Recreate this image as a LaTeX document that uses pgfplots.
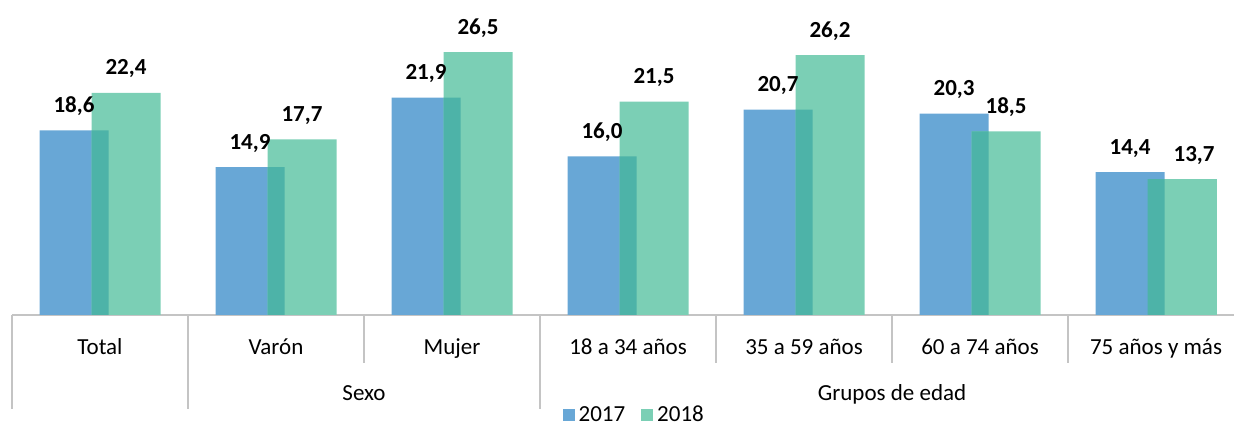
\documentclass[border=0pt]{standalone}
\usepackage{fontspec}
\setmainfont{Carlito}
\usepackage{pgfplots}
\usepackage{pgfplotstable}
\pgfplotsset{compat=1.18}

\definecolor{c17}{RGB}{104,167,214}
\definecolor{c18}{RGB}{123,207,181}
\definecolor{cov}{RGB}{77,179,168}
\definecolor{sep}{RGB}{196,196,196}

% x, 2017, 2018, overlap (min)
\pgfplotstableread{
x a b m
0 18.6 22.4 18.6
1 14.9 17.7 14.9
2 21.9 26.5 21.9
3 16.0 21.5 16.0
4 20.7 26.2 20.7
5 20.3 18.5 18.5
6 14.4 13.7 13.7
}\datatable

\begin{document}
\begin{tikzpicture}
\begin{axis}[
  scale only axis,
  width=611pt, height=157.5pt,
  ybar,
  xmin=-0.5, xmax=6.443,
  ymin=0, ymax=31.75,
  axis x line=bottom,
  axis y line=none,
  x axis line style={-, sep, line width=1.3pt},
  xtick={0,...,6},
  xticklabels={Total,Varón,Mujer,18 a 34 años,35 a 59 años,60 a 74 años,75 años y más},
  major tick length=0pt,
  xticklabel style={anchor=base, yshift=-20pt, font=\fontsize{11.5}{13}\selectfont},
  ytick=\empty,
  clip=false,
  /pgf/number format/.cd, fixed, fixed zerofill, precision=1, use comma, assume math mode=true,
  /pgfplots/.cd,
  nodes near coords,
  every node near coord/.append style={anchor=base, yshift=9pt, font=\bfseries\fontsize{11.5}{14}\selectfont, black},
  legend columns=2,
  legend style={at={(0.51,-0.318)}, anchor=center, draw=none, fill=none,
    font=\fontsize{11.5}{13}\selectfont,
    /tikz/every even column/.append style={column sep=6pt}},
  legend image code/.code={\fill[#1] (0pt,-3pt) rectangle (6pt,3pt);},
]
\addplot[fill=c17, draw=none, bar width=34.5pt, bar shift=-13pt] table[x=x, y=a] {\datatable};
\addlegendentry{2017}
\addplot[fill=c18, draw=none, bar width=34.5pt, bar shift=13pt, restrict x to domain=-1:5.5] table[x=x, y=b] {\datatable};
\addlegendentry{2018}
\addplot[fill=c18, draw=none, bar width=34.5pt, bar shift=13pt, restrict x to domain=5.5:7, forget plot,
  every node near coord/.append style={xshift=6pt}] table[x=x, y=b] {\datatable};
\addplot[fill=cov, draw=none, bar width=8.5pt, bar shift=0pt, nodes near coords={}, forget plot] table[x=x, y=m] {\datatable};

% category separators
\pgfplotsinvokeforeach{-0.5,0.5,2.5}{
  \draw[sep, line width=1.3pt] (axis cs:#1,0) -- ++(0pt,-47pt);
}
\pgfplotsinvokeforeach{1.5,3.5,4.5,5.5}{
  \draw[sep, line width=1.3pt] (axis cs:#1,0) -- ++(0pt,-24pt);
}
% group labels
\node[anchor=base, font=\fontsize{11.5}{13}\selectfont] at ([yshift=-43pt]axis cs:1.5,0) {Sexo};
\node[anchor=base, font=\fontsize{11.5}{13}\selectfont] at ([yshift=-43pt]axis cs:4.5,0) {Grupos de edad};
\end{axis}
\pgfresetboundingbox
\path (-6pt,-55.5pt) rectangle (611pt,157.5pt);
\end{tikzpicture}
\end{document}
